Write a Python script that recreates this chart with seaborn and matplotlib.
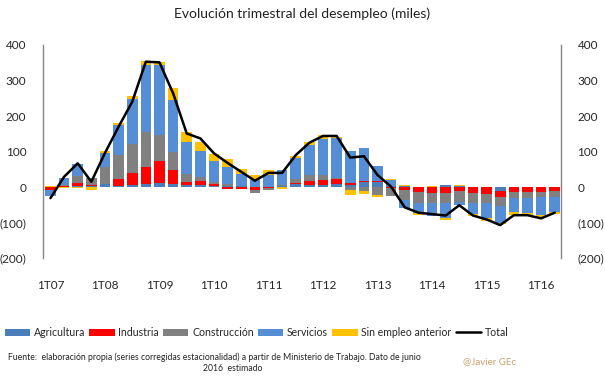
import numpy as np
import pandas as pd
import matplotlib
matplotlib.use("Agg")
import matplotlib.pyplot as plt
from matplotlib.patches import Patch
from matplotlib.lines import Line2D
from matplotlib.ticker import FuncFormatter
import seaborn as sns

# Datos trimestrales (miles), 1T07 - 2T16
trimestres = [f"{q}T{y:02d}" for y in range(7, 17) for q in range(1, 5)][:38]
etiquetas_x = ["1T07", "1T08", "1T09", "1T10", "1T11", "1T12", "1T13", "1T14", "1T15", "1T16"]

agricultura = [0, 1, 3, 2, 8, 4, 6, 8, 11, 8, 5, 6, 3, 2, 2, 1, 1, 2, 9, 6,
               6, 8, 6, 15, 15, 2, 2, 0, -1, 5, 2, 0, 0, -10, 0, 0, 0, 0]
industria = [-8, 1, 9, 3, 1, 20, 35, 50, 62, 39, 9, 11, 6, -4, -6, -7, -2, 1, 3, 12,
             14, 14, 5, 3, 1, -3, -8, -13, -15, -17, -11, -16, -20, -19, -13, -13, -13, -11]
construccion = [0, 3, 20, 22, 49, 66, 79, 98, 75, 52, 22, 11, 6, 8, 1, -9, -6, 3, 10, 16,
                14, 4, -7, -12, -22, -22, -27, -33, -30, -28, -30, -30, -26, -25, -19, -19, -16, -16]
servicios = [-17, 22, 34, 0, 38, 86, 128, 187, 195, 146, 91, 75, 58, 47, 33, 19, 34, 42, 60, 84,
             102, 111, 92, 93, 44, 18, -25, -28, -36, -41, -8, -31, -42, -46, -38, -42, -50, -43]
sin_empleo = [3, -2, -2, -7, 7, 5, 9, 13, 9, 33, 28, 24, 19, 21, 15, 14, 14, -5, 6, 10,
              10, 5, -16, -7, -5, 4, 3, -4, 4, -6, 3, -5, -7, -5, -9, -5, -6, -6]
total = [-31, 29, 67, 15, 96, 170, 240, 353, 351, 264, 151, 137, 95, 68, 43, 18, 40, 40, 90, 125,
         144, 144, 83, 87, 34, 1, -57, -72, -76, -80, -51, -80, -91, -107, -79, -79, -88, -72]

series = {
    "Agricultura": agricultura,
    "Industria": industria,
    "Construcción": construccion,
    "Servicios": servicios,
    "Sin empleo anterior": sin_empleo,
}
colores = {
    "Agricultura": "#4a7ebb",
    "Industria": "#ff0000",
    "Construcción": "#808080",
    "Servicios": "#558ed5",
    "Sin empleo anterior": "#ffc000",
}

df = pd.DataFrame(series)
df["Total"] = total
df["pos"] = np.arange(len(trimestres))

sns.set_theme(style="white")
plt.rcParams["font.family"] = ["Lato", "DejaVu Sans"]

fig = plt.figure(figsize=(6.05, 3.78), dpi=100)
ax = fig.add_axes([0.071, 0.317, 0.856, 0.564])

# Barras apiladas (positivos hacia arriba, negativos hacia abajo)
base_pos = np.zeros(len(df))
base_neg = np.zeros(len(df))
for nombre in series:
    vals = df[nombre].to_numpy(dtype=float)
    base = np.where(vals >= 0, base_pos, base_neg)
    ax.bar(df["pos"], vals, bottom=base, width=0.78, color=colores[nombre], linewidth=0)
    base_pos = base_pos + np.where(vals >= 0, vals, 0)
    base_neg = base_neg + np.where(vals < 0, vals, 0)

sns.lineplot(data=df, x="pos", y="Total", color="black", linewidth=1.8, ax=ax)

ax.set_xlim(-0.55, 37.45)
ax.set_ylim(-200, 400)
ax.set_yticks(range(-200, 401, 100))
ax.yaxis.set_major_formatter(FuncFormatter(lambda v, p: f"({abs(int(v))})" if v < 0 else f"{int(v)}"))
ax.set_xticks(np.arange(0, 38, 4))
ax.set_xticklabels(etiquetas_x)
ax.tick_params(axis="y", labelleft=True, labelright=True, left=False, right=False,
               labelsize=8.5, pad=6, colors="#262626")
ax.tick_params(axis="x", bottom=False, labelsize=8.5, pad=10, colors="#262626")
ax.set_xlabel("")
ax.set_ylabel("")
for lado in ["top", "bottom"]:
    ax.spines[lado].set_visible(False)
for lado in ["left", "right"]:
    ax.spines[lado].set_color("#868686")
    ax.spines[lado].set_linewidth(1)

fig.text(0.5, 0.965, "Evolución trimestral del desempleo (miles)", ha="center", va="center",
         fontsize=10, color="#222222")

manejadores = [Patch(facecolor=colores[n], edgecolor="none", label=n) for n in series]
manejadores.append(Line2D([0], [0], color="black", linewidth=1.8, label="Total"))
fig.legend(handles=manejadores, loc="center", bbox_to_anchor=(0.424, 0.12), ncol=6,
           frameon=False, fontsize=7.6, handlelength=2.4, handleheight=0.7, columnspacing=0.4,
           handletextpad=0.35, borderpad=0.2)

fig.text(0.013, 0.056, "Fuente:  elaboración propia (series corregidas estacionalidad) a partir de Ministerio de Trabajo. Dato de junio",
         ha="left", va="center", fontsize=6.2, color="#222222")
fig.text(0.385, 0.024, "2016  estimado", ha="center", va="center", fontsize=6.2, color="#222222")
fig.text(0.765, 0.043, "@Javier GEc", ha="left", va="center", fontsize=7, color="#c4a46e")

fig.savefig("out.png", dpi=100)
